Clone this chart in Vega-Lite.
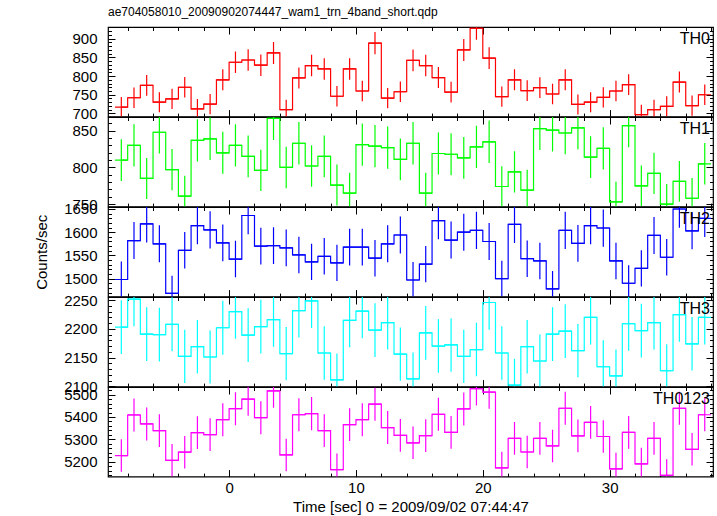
{
"$schema": "https://vega.github.io/schema/vega-lite/v6.json",
"padding": {"left": 34, "top": 5, "right": 4, "bottom": 5},
"title": {"text": "ae704058010_20090902074447_wam1_trn_4band_short.qdp", "anchor": "start", "frame": "group", "font": "Liberation Sans", "fontSize": 12, "fontWeight": "normal", "color": "black", "offset": 7},
"spacing": 0,
"bounds": "flush",
"config": {
  "view": {"stroke": "#000000", "strokeWidth": 1.2},
  "axis": {"domain": false, "grid": false, "labelOverlap": false, "labelFlush": false, "format": "d", "labelFont": "Liberation Sans", "labelFontSize": 15, "labelColor": "#000000", "tickColor": "#000000", "tickWidth": 1, "titleFont": "Liberation Sans", "titleFontSize": 15, "titleFontWeight": "normal", "titleColor": "#000000"},
  "text": {"font": "Liberation Sans"}
},
"datasets": {"d": [
{"b":"TH0","t":-8.5,"t0":-9,"t1":-8,"r":717,"e":26.8},
{"b":"TH0","t":-7.5,"t0":-8,"t1":-7,"r":742,"e":27.2},
{"b":"TH0","t":-6.5,"t0":-7,"t1":-6,"r":775,"e":27.8},
{"b":"TH0","t":-5.5,"t0":-6,"t1":-5,"r":730,"e":27.0},
{"b":"TH0","t":-4.5,"t0":-5,"t1":-4,"r":739,"e":27.2},
{"b":"TH0","t":-3.5,"t0":-4,"t1":-3,"r":770,"e":27.7},
{"b":"TH0","t":-2.5,"t0":-3,"t1":-2,"r":712,"e":26.7},
{"b":"TH0","t":-1.5,"t0":-2,"t1":-1,"r":725,"e":26.9},
{"b":"TH0","t":-0.5,"t0":-1,"t1":0,"r":790,"e":28.1},
{"b":"TH0","t":0.5,"t0":0,"t1":1,"r":837,"e":28.9},
{"b":"TH0","t":1.5,"t0":1,"t1":2,"r":843,"e":29.0},
{"b":"TH0","t":2.5,"t0":2,"t1":3,"r":829,"e":28.8},
{"b":"TH0","t":3.5,"t0":3,"t1":4,"r":862,"e":29.4},
{"b":"TH0","t":4.5,"t0":4,"t1":5,"r":710,"e":26.6},
{"b":"TH0","t":5.5,"t0":5,"t1":6,"r":795,"e":28.2},
{"b":"TH0","t":6.5,"t0":6,"t1":7,"r":828,"e":28.8},
{"b":"TH0","t":7.5,"t0":7,"t1":8,"r":819,"e":28.6},
{"b":"TH0","t":8.5,"t0":8,"t1":9,"r":746,"e":27.3},
{"b":"TH0","t":9.5,"t0":9,"t1":10,"r":819,"e":28.6},
{"b":"TH0","t":10.5,"t0":10,"t1":11,"r":760,"e":27.6},
{"b":"TH0","t":11.5,"t0":11,"t1":12,"r":888,"e":29.8},
{"b":"TH0","t":12.5,"t0":12,"t1":13,"r":741,"e":27.2},
{"b":"TH0","t":13.5,"t0":13,"t1":14,"r":758,"e":27.5},
{"b":"TH0","t":14.5,"t0":14,"t1":15,"r":842,"e":29.0},
{"b":"TH0","t":15.5,"t0":15,"t1":16,"r":828,"e":28.8},
{"b":"TH0","t":16.5,"t0":16,"t1":17,"r":796,"e":28.2},
{"b":"TH0","t":17.5,"t0":17,"t1":18,"r":757,"e":27.5},
{"b":"TH0","t":18.5,"t0":18,"t1":19,"r":870,"e":29.5},
{"b":"TH0","t":19.5,"t0":19,"t1":20,"r":928,"e":30.5},
{"b":"TH0","t":20.5,"t0":20,"t1":21,"r":848,"e":29.1},
{"b":"TH0","t":21.5,"t0":21,"t1":22,"r":745,"e":27.3},
{"b":"TH0","t":22.5,"t0":22,"t1":23,"r":790,"e":28.1},
{"b":"TH0","t":23.5,"t0":23,"t1":24,"r":761,"e":27.6},
{"b":"TH0","t":24.5,"t0":24,"t1":25,"r":769,"e":27.7},
{"b":"TH0","t":25.5,"t0":25,"t1":26,"r":752,"e":27.4},
{"b":"TH0","t":26.5,"t0":26,"t1":27,"r":790,"e":28.1},
{"b":"TH0","t":27.5,"t0":27,"t1":28,"r":724,"e":26.9},
{"b":"TH0","t":28.5,"t0":28,"t1":29,"r":730,"e":27.0},
{"b":"TH0","t":29.5,"t0":29,"t1":30,"r":743,"e":27.3},
{"b":"TH0","t":30.5,"t0":30,"t1":31,"r":760,"e":27.6},
{"b":"TH0","t":31.5,"t0":31,"t1":32,"r":777,"e":27.9},
{"b":"TH0","t":32.5,"t0":32,"t1":33,"r":697,"e":26.4},
{"b":"TH0","t":33.5,"t0":33,"t1":34,"r":710,"e":26.6},
{"b":"TH0","t":34.5,"t0":34,"t1":35,"r":719,"e":26.8},
{"b":"TH0","t":35.5,"t0":35,"t1":36,"r":784,"e":28.0},
{"b":"TH0","t":36.5,"t0":36,"t1":37,"r":721,"e":26.9},
{"b":"TH0","t":37.5,"t0":37,"t1":38,"r":750,"e":27.4},
{"b":"TH1","t":-8.5,"t0":-9,"t1":-8,"r":810,"e":28.5},
{"b":"TH1","t":-7.5,"t0":-8,"t1":-7,"r":830,"e":28.8},
{"b":"TH1","t":-6.5,"t0":-7,"t1":-6,"r":785,"e":28.0},
{"b":"TH1","t":-5.5,"t0":-6,"t1":-5,"r":848,"e":29.1},
{"b":"TH1","t":-4.5,"t0":-5,"t1":-4,"r":797,"e":28.2},
{"b":"TH1","t":-3.5,"t0":-4,"t1":-3,"r":761,"e":27.6},
{"b":"TH1","t":-2.5,"t0":-3,"t1":-2,"r":837,"e":28.9},
{"b":"TH1","t":-1.5,"t0":-2,"t1":-1,"r":839,"e":29.0},
{"b":"TH1","t":-0.5,"t0":-1,"t1":0,"r":820,"e":28.6},
{"b":"TH1","t":0.5,"t0":0,"t1":1,"r":830,"e":28.8},
{"b":"TH1","t":1.5,"t0":1,"t1":2,"r":815,"e":28.5},
{"b":"TH1","t":2.5,"t0":2,"t1":3,"r":796,"e":28.2},
{"b":"TH1","t":3.5,"t0":3,"t1":4,"r":867,"e":29.4},
{"b":"TH1","t":4.5,"t0":4,"t1":5,"r":800,"e":28.3},
{"b":"TH1","t":5.5,"t0":5,"t1":6,"r":833,"e":28.9},
{"b":"TH1","t":6.5,"t0":6,"t1":7,"r":802,"e":28.3},
{"b":"TH1","t":7.5,"t0":7,"t1":8,"r":815,"e":28.5},
{"b":"TH1","t":8.5,"t0":8,"t1":9,"r":776,"e":27.9},
{"b":"TH1","t":9.5,"t0":9,"t1":10,"r":765,"e":27.7},
{"b":"TH1","t":10.5,"t0":10,"t1":11,"r":831,"e":28.8},
{"b":"TH1","t":11.5,"t0":11,"t1":12,"r":829,"e":28.8},
{"b":"TH1","t":12.5,"t0":12,"t1":13,"r":827,"e":28.8},
{"b":"TH1","t":13.5,"t0":13,"t1":14,"r":811,"e":28.5},
{"b":"TH1","t":14.5,"t0":14,"t1":15,"r":833,"e":28.9},
{"b":"TH1","t":15.5,"t0":15,"t1":16,"r":765,"e":27.7},
{"b":"TH1","t":16.5,"t0":16,"t1":17,"r":819,"e":28.6},
{"b":"TH1","t":17.5,"t0":17,"t1":18,"r":818,"e":28.6},
{"b":"TH1","t":18.5,"t0":18,"t1":19,"r":813,"e":28.5},
{"b":"TH1","t":19.5,"t0":19,"t1":20,"r":828,"e":28.8},
{"b":"TH1","t":20.5,"t0":20,"t1":21,"r":835,"e":28.9},
{"b":"TH1","t":21.5,"t0":21,"t1":22,"r":774,"e":27.8},
{"b":"TH1","t":22.5,"t0":22,"t1":23,"r":794,"e":28.2},
{"b":"TH1","t":23.5,"t0":23,"t1":24,"r":769,"e":27.7},
{"b":"TH1","t":24.5,"t0":24,"t1":25,"r":853,"e":29.2},
{"b":"TH1","t":25.5,"t0":25,"t1":26,"r":851,"e":29.2},
{"b":"TH1","t":26.5,"t0":26,"t1":27,"r":847,"e":29.1},
{"b":"TH1","t":27.5,"t0":27,"t1":28,"r":854,"e":29.2},
{"b":"TH1","t":28.5,"t0":28,"t1":29,"r":814,"e":28.5},
{"b":"TH1","t":29.5,"t0":29,"t1":30,"r":826,"e":28.7},
{"b":"TH1","t":30.5,"t0":30,"t1":31,"r":753,"e":27.4},
{"b":"TH1","t":31.5,"t0":31,"t1":32,"r":857,"e":29.3},
{"b":"TH1","t":32.5,"t0":32,"t1":33,"r":775,"e":27.8},
{"b":"TH1","t":33.5,"t0":33,"t1":34,"r":792,"e":28.1},
{"b":"TH1","t":34.5,"t0":34,"t1":35,"r":750,"e":27.4},
{"b":"TH1","t":35.5,"t0":35,"t1":36,"r":781,"e":27.9},
{"b":"TH1","t":36.5,"t0":36,"t1":37,"r":758,"e":27.5},
{"b":"TH1","t":37.5,"t0":37,"t1":38,"r":805,"e":28.4},
{"b":"TH2","t":-8.5,"t0":-9,"t1":-8,"r":1498,"e":38.7},
{"b":"TH2","t":-7.5,"t0":-8,"t1":-7,"r":1582,"e":39.8},
{"b":"TH2","t":-6.5,"t0":-7,"t1":-6,"r":1618,"e":40.2},
{"b":"TH2","t":-5.5,"t0":-6,"t1":-5,"r":1575,"e":39.7},
{"b":"TH2","t":-4.5,"t0":-5,"t1":-4,"r":1468,"e":38.3},
{"b":"TH2","t":-3.5,"t0":-4,"t1":-3,"r":1561,"e":39.5},
{"b":"TH2","t":-2.5,"t0":-3,"t1":-2,"r":1614,"e":40.2},
{"b":"TH2","t":-1.5,"t0":-2,"t1":-1,"r":1605,"e":40.1},
{"b":"TH2","t":-0.5,"t0":-1,"t1":0,"r":1577,"e":39.7},
{"b":"TH2","t":0.5,"t0":0,"t1":1,"r":1542,"e":39.3},
{"b":"TH2","t":1.5,"t0":1,"t1":2,"r":1636,"e":40.4},
{"b":"TH2","t":2.5,"t0":2,"t1":3,"r":1570,"e":39.6},
{"b":"TH2","t":3.5,"t0":3,"t1":4,"r":1571,"e":39.6},
{"b":"TH2","t":4.5,"t0":4,"t1":5,"r":1566,"e":39.6},
{"b":"TH2","t":5.5,"t0":5,"t1":6,"r":1551,"e":39.4},
{"b":"TH2","t":6.5,"t0":6,"t1":7,"r":1536,"e":39.2},
{"b":"TH2","t":7.5,"t0":7,"t1":8,"r":1548,"e":39.3},
{"b":"TH2","t":8.5,"t0":8,"t1":9,"r":1534,"e":39.2},
{"b":"TH2","t":9.5,"t0":9,"t1":10,"r":1568,"e":39.6},
{"b":"TH2","t":10.5,"t0":10,"t1":11,"r":1568,"e":39.6},
{"b":"TH2","t":11.5,"t0":11,"t1":12,"r":1544,"e":39.3},
{"b":"TH2","t":12.5,"t0":12,"t1":13,"r":1575,"e":39.7},
{"b":"TH2","t":13.5,"t0":13,"t1":14,"r":1594,"e":39.9},
{"b":"TH2","t":14.5,"t0":14,"t1":15,"r":1497,"e":38.7},
{"b":"TH2","t":15.5,"t0":15,"t1":16,"r":1531,"e":39.1},
{"b":"TH2","t":16.5,"t0":16,"t1":17,"r":1625,"e":40.3},
{"b":"TH2","t":17.5,"t0":17,"t1":18,"r":1583,"e":39.8},
{"b":"TH2","t":18.5,"t0":18,"t1":19,"r":1600,"e":40.0},
{"b":"TH2","t":19.5,"t0":19,"t1":20,"r":1604,"e":40.0},
{"b":"TH2","t":20.5,"t0":20,"t1":21,"r":1580,"e":39.7},
{"b":"TH2","t":21.5,"t0":21,"t1":22,"r":1500,"e":38.7},
{"b":"TH2","t":22.5,"t0":22,"t1":23,"r":1617,"e":40.2},
{"b":"TH2","t":23.5,"t0":23,"t1":24,"r":1543,"e":39.3},
{"b":"TH2","t":24.5,"t0":24,"t1":25,"r":1538,"e":39.2},
{"b":"TH2","t":25.5,"t0":25,"t1":26,"r":1478,"e":38.4},
{"b":"TH2","t":26.5,"t0":26,"t1":27,"r":1604,"e":40.0},
{"b":"TH2","t":27.5,"t0":27,"t1":28,"r":1576,"e":39.7},
{"b":"TH2","t":28.5,"t0":28,"t1":29,"r":1614,"e":40.2},
{"b":"TH2","t":29.5,"t0":29,"t1":30,"r":1609,"e":40.1},
{"b":"TH2","t":30.5,"t0":30,"t1":31,"r":1538,"e":39.2},
{"b":"TH2","t":31.5,"t0":31,"t1":32,"r":1490,"e":38.6},
{"b":"TH2","t":32.5,"t0":32,"t1":33,"r":1522,"e":39.0},
{"b":"TH2","t":33.5,"t0":33,"t1":34,"r":1593,"e":39.9},
{"b":"TH2","t":34.5,"t0":34,"t1":35,"r":1546,"e":39.3},
{"b":"TH2","t":35.5,"t0":35,"t1":36,"r":1650,"e":40.6},
{"b":"TH2","t":36.5,"t0":36,"t1":37,"r":1603,"e":40.0},
{"b":"TH2","t":37.5,"t0":37,"t1":38,"r":1630,"e":40.4},
{"b":"TH3","t":-8.5,"t0":-9,"t1":-8,"r":2203,"e":46.9},
{"b":"TH3","t":-7.5,"t0":-8,"t1":-7,"r":2252,"e":47.5},
{"b":"TH3","t":-6.5,"t0":-7,"t1":-6,"r":2191,"e":46.8},
{"b":"TH3","t":-5.5,"t0":-6,"t1":-5,"r":2190,"e":46.8},
{"b":"TH3","t":-4.5,"t0":-5,"t1":-4,"r":2208,"e":47.0},
{"b":"TH3","t":-3.5,"t0":-4,"t1":-3,"r":2152,"e":46.4},
{"b":"TH3","t":-2.5,"t0":-3,"t1":-2,"r":2169,"e":46.6},
{"b":"TH3","t":-1.5,"t0":-2,"t1":-1,"r":2151,"e":46.4},
{"b":"TH3","t":-0.5,"t0":-1,"t1":0,"r":2202,"e":46.9},
{"b":"TH3","t":0.5,"t0":0,"t1":1,"r":2230,"e":47.2},
{"b":"TH3","t":1.5,"t0":1,"t1":2,"r":2189,"e":46.8},
{"b":"TH3","t":2.5,"t0":2,"t1":3,"r":2204,"e":46.9},
{"b":"TH3","t":3.5,"t0":3,"t1":4,"r":2216,"e":47.1},
{"b":"TH3","t":4.5,"t0":4,"t1":5,"r":2157,"e":46.4},
{"b":"TH3","t":5.5,"t0":5,"t1":6,"r":2232,"e":47.2},
{"b":"TH3","t":6.5,"t0":6,"t1":7,"r":2249,"e":47.4},
{"b":"TH3","t":7.5,"t0":7,"t1":8,"r":2158,"e":46.5},
{"b":"TH3","t":8.5,"t0":8,"t1":9,"r":2111,"e":45.9},
{"b":"TH3","t":9.5,"t0":9,"t1":10,"r":2215,"e":47.1},
{"b":"TH3","t":10.5,"t0":10,"t1":11,"r":2231,"e":47.2},
{"b":"TH3","t":11.5,"t0":11,"t1":12,"r":2198,"e":46.9},
{"b":"TH3","t":12.5,"t0":12,"t1":13,"r":2211,"e":47.0},
{"b":"TH3","t":13.5,"t0":13,"t1":14,"r":2156,"e":46.4},
{"b":"TH3","t":14.5,"t0":14,"t1":15,"r":2113,"e":46.0},
{"b":"TH3","t":15.5,"t0":15,"t1":16,"r":2193,"e":46.8},
{"b":"TH3","t":16.5,"t0":16,"t1":17,"r":2170,"e":46.6},
{"b":"TH3","t":17.5,"t0":17,"t1":18,"r":2172,"e":46.6},
{"b":"TH3","t":18.5,"t0":18,"t1":19,"r":2152,"e":46.4},
{"b":"TH3","t":19.5,"t0":19,"t1":20,"r":2164,"e":46.5},
{"b":"TH3","t":20.5,"t0":20,"t1":21,"r":2246,"e":47.4},
{"b":"TH3","t":21.5,"t0":21,"t1":22,"r":2158,"e":46.5},
{"b":"TH3","t":22.5,"t0":22,"t1":23,"r":2102,"e":45.8},
{"b":"TH3","t":23.5,"t0":23,"t1":24,"r":2169,"e":46.6},
{"b":"TH3","t":24.5,"t0":24,"t1":25,"r":2144,"e":46.3},
{"b":"TH3","t":25.5,"t0":25,"t1":26,"r":2191,"e":46.8},
{"b":"TH3","t":26.5,"t0":26,"t1":27,"r":2196,"e":46.9},
{"b":"TH3","t":27.5,"t0":27,"t1":28,"r":2162,"e":46.5},
{"b":"TH3","t":28.5,"t0":28,"t1":29,"r":2220,"e":47.1},
{"b":"TH3","t":29.5,"t0":29,"t1":30,"r":2134,"e":46.2},
{"b":"TH3","t":30.5,"t0":30,"t1":31,"r":2118,"e":46.0},
{"b":"TH3","t":31.5,"t0":31,"t1":32,"r":2209,"e":47.0},
{"b":"TH3","t":32.5,"t0":32,"t1":33,"r":2197,"e":46.9},
{"b":"TH3","t":33.5,"t0":33,"t1":34,"r":2211,"e":47.0},
{"b":"TH3","t":34.5,"t0":34,"t1":35,"r":2127,"e":46.1},
{"b":"TH3","t":35.5,"t0":35,"t1":36,"r":2225,"e":47.2},
{"b":"TH3","t":36.5,"t0":36,"t1":37,"r":2174,"e":46.6},
{"b":"TH3","t":37.5,"t0":37,"t1":38,"r":2220,"e":47.1},
{"b":"TH0123","t":-8.5,"t0":-9,"t1":-8,"r":5228,"e":72.3},
{"b":"TH0123","t":-7.5,"t0":-8,"t1":-7,"r":5409,"e":73.5},
{"b":"TH0123","t":-6.5,"t0":-7,"t1":-6,"r":5369,"e":73.3},
{"b":"TH0123","t":-5.5,"t0":-6,"t1":-5,"r":5339,"e":73.1},
{"b":"TH0123","t":-4.5,"t0":-5,"t1":-4,"r":5207,"e":72.2},
{"b":"TH0123","t":-3.5,"t0":-4,"t1":-3,"r":5243,"e":72.4},
{"b":"TH0123","t":-2.5,"t0":-3,"t1":-2,"r":5330,"e":73.0},
{"b":"TH0123","t":-1.5,"t0":-2,"t1":-1,"r":5321,"e":72.9},
{"b":"TH0123","t":-0.5,"t0":-1,"t1":0,"r":5388,"e":73.4},
{"b":"TH0123","t":0.5,"t0":0,"t1":1,"r":5437,"e":73.7},
{"b":"TH0123","t":1.5,"t0":1,"t1":2,"r":5480,"e":74.0},
{"b":"TH0123","t":2.5,"t0":2,"t1":3,"r":5397,"e":73.5},
{"b":"TH0123","t":3.5,"t0":3,"t1":4,"r":5516,"e":74.3},
{"b":"TH0123","t":4.5,"t0":4,"t1":5,"r":5231,"e":72.3},
{"b":"TH0123","t":5.5,"t0":5,"t1":6,"r":5410,"e":73.6},
{"b":"TH0123","t":6.5,"t0":6,"t1":7,"r":5415,"e":73.6},
{"b":"TH0123","t":7.5,"t0":7,"t1":8,"r":5339,"e":73.1},
{"b":"TH0123","t":8.5,"t0":8,"t1":9,"r":5165,"e":71.9},
{"b":"TH0123","t":9.5,"t0":9,"t1":10,"r":5366,"e":73.3},
{"b":"TH0123","t":10.5,"t0":10,"t1":11,"r":5388,"e":73.4},
{"b":"TH0123","t":11.5,"t0":11,"t1":12,"r":5457,"e":73.9},
{"b":"TH0123","t":12.5,"t0":12,"t1":13,"r":5353,"e":73.2},
{"b":"TH0123","t":13.5,"t0":13,"t1":14,"r":5318,"e":72.9},
{"b":"TH0123","t":14.5,"t0":14,"t1":15,"r":5285,"e":72.7},
{"b":"TH0123","t":15.5,"t0":15,"t1":16,"r":5317,"e":72.9},
{"b":"TH0123","t":16.5,"t0":16,"t1":17,"r":5412,"e":73.6},
{"b":"TH0123","t":17.5,"t0":17,"t1":18,"r":5331,"e":73.0},
{"b":"TH0123","t":18.5,"t0":18,"t1":19,"r":5436,"e":73.7},
{"b":"TH0123","t":19.5,"t0":19,"t1":20,"r":5526,"e":74.3},
{"b":"TH0123","t":20.5,"t0":20,"t1":21,"r":5511,"e":74.2},
{"b":"TH0123","t":21.5,"t0":21,"t1":22,"r":5173,"e":71.9},
{"b":"TH0123","t":22.5,"t0":22,"t1":23,"r":5305,"e":72.8},
{"b":"TH0123","t":23.5,"t0":23,"t1":24,"r":5244,"e":72.4},
{"b":"TH0123","t":24.5,"t0":24,"t1":25,"r":5305,"e":72.8},
{"b":"TH0123","t":25.5,"t0":25,"t1":26,"r":5271,"e":72.6},
{"b":"TH0123","t":26.5,"t0":26,"t1":27,"r":5439,"e":73.7},
{"b":"TH0123","t":27.5,"t0":27,"t1":28,"r":5316,"e":72.9},
{"b":"TH0123","t":28.5,"t0":28,"t1":29,"r":5376,"e":73.3},
{"b":"TH0123","t":29.5,"t0":29,"t1":30,"r":5313,"e":72.9},
{"b":"TH0123","t":30.5,"t0":30,"t1":31,"r":5169,"e":71.9},
{"b":"TH0123","t":31.5,"t0":31,"t1":32,"r":5331,"e":73.0},
{"b":"TH0123","t":32.5,"t0":32,"t1":33,"r":5191,"e":72.0},
{"b":"TH0123","t":33.5,"t0":33,"t1":34,"r":5305,"e":72.8},
{"b":"TH0123","t":34.5,"t0":34,"t1":35,"r":5140,"e":71.7},
{"b":"TH0123","t":35.5,"t0":35,"t1":36,"r":5439,"e":73.7},
{"b":"TH0123","t":36.5,"t0":36,"t1":37,"r":5256,"e":72.5},
{"b":"TH0123","t":37.5,"t0":37,"t1":38,"r":5410,"e":73.6}
]},
"vconcat": [
{
  "width": 605, "height": 89.6,
  "data": {"name": "d"},
  "resolve": {"axis": {"x": "independent", "y": "independent"}},
  "layer": [
    {"transform": [{"filter": "datum.b === 'TH0'"}],
     "mark": {"type": "line", "interpolate": "step", "color": "#ff0000", "strokeWidth": 1.2, "clip": true},
     "encoding": {
      "x": {"field": "t", "type": "quantitative", "scale": {"domain": [-9.55, 38.15], "nice": false, "zero": false}, "axis": {"orient": "bottom", "values": [0,10,20,30], "tickSize": -7, "labels": false, "title": null}},
      "y": {"field": "r", "type": "quantitative", "scale": {"domain": [691.5, 931.3], "nice": false, "zero": false}, "axis": {"orient": "left", "values": [700,750,800,850,900], "tickSize": -7, "labelPadding": 18, "title": null}}}},
    {"transform": [{"filter": "datum.b === 'TH0'"}],
     "mark": {"type": "rule", "color": "#ff0000", "strokeWidth": 1.2, "clip": true},
     "encoding": {
      "x": {"field": "t0", "type": "quantitative", "axis": {"orient": "top", "values": [0,10,20,30], "tickSize": -7, "labels": false, "title": null}},
      "x2": {"field": "t1"},
      "y": {"field": "r", "type": "quantitative", "axis": {"orient": "right", "values": [700,750,800,850,900], "tickSize": -7, "labels": false, "title": null}}}},
    {"transform": [{"filter": "datum.b === 'TH0'"}],
     "mark": {"type": "errorbar", "color": "#ff0000", "thickness": 1.2, "clip": true},
     "encoding": {
      "x": {"field": "t", "type": "quantitative", "axis": {"orient": "bottom", "values": [-8,-6,-4,-2,2,4,6,8,12,14,16,18,22,24,26,28,32,34,36,38], "tickSize": -3.5, "labels": false, "title": null}},
      "y": {"field": "r", "type": "quantitative", "axis": {"orient": "left", "values": [700,710,720,730,740,760,770,780,790,810,820,830,840,860,870,880,890,910,920,930], "tickSize": -3.5, "labels": false, "title": null}},
      "yError": {"field": "e"}}},
    {"data": {"values": [{"lab": "TH0"}]},
     "mark": {"type": "text", "align": "right", "baseline": "top", "dx": -3, "dy": 4, "fontSize": 16, "color": "#000000"},
     "encoding": {
      "x": {"datum": 38.15, "type": "quantitative", "axis": {"orient": "top", "values": [-8,-6,-4,-2,2,4,6,8,12,14,16,18,22,24,26,28,32,34,36,38], "tickSize": -3.5, "labels": false, "title": null}},
      "y": {"datum": 931.3, "type": "quantitative", "axis": {"orient": "right", "values": [700,710,720,730,740,760,770,780,790,810,820,830,840,860,870,880,890,910,920,930], "tickSize": -3.5, "labels": false, "title": null}},
      "text": {"field": "lab"}}}
  ]
},
{
  "width": 605, "height": 89.6,
  "data": {"name": "d"},
  "resolve": {"axis": {"x": "independent", "y": "independent"}},
  "layer": [
    {"transform": [{"filter": "datum.b === 'TH1'"}],
     "mark": {"type": "line", "interpolate": "step", "color": "#00ff00", "strokeWidth": 1.2, "clip": true},
     "encoding": {
      "x": {"field": "t", "type": "quantitative", "scale": {"domain": [-9.55, 38.15], "nice": false, "zero": false}, "axis": {"orient": "bottom", "values": [0,10,20,30], "tickSize": -7, "labels": false, "title": null}},
      "y": {"field": "r", "type": "quantitative", "scale": {"domain": [746.6, 868.8], "nice": false, "zero": false}, "axis": {"orient": "left", "values": [750,800,850], "tickSize": -7, "labelPadding": 18, "title": null}}}},
    {"transform": [{"filter": "datum.b === 'TH1'"}],
     "mark": {"type": "rule", "color": "#00ff00", "strokeWidth": 1.2, "clip": true},
     "encoding": {
      "x": {"field": "t0", "type": "quantitative", "axis": {"orient": "top", "values": [0,10,20,30], "tickSize": -7, "labels": false, "title": null}},
      "x2": {"field": "t1"},
      "y": {"field": "r", "type": "quantitative", "axis": {"orient": "right", "values": [750,800,850], "tickSize": -7, "labels": false, "title": null}}}},
    {"transform": [{"filter": "datum.b === 'TH1'"}],
     "mark": {"type": "errorbar", "color": "#00ff00", "thickness": 1.2, "clip": true},
     "encoding": {
      "x": {"field": "t", "type": "quantitative", "axis": {"orient": "bottom", "values": [-8,-6,-4,-2,2,4,6,8,12,14,16,18,22,24,26,28,32,34,36,38], "tickSize": -3.5, "labels": false, "title": null}},
      "y": {"field": "r", "type": "quantitative", "axis": {"orient": "left", "values": [760,770,780,790,810,820,830,840,860], "tickSize": -3.5, "labels": false, "title": null}},
      "yError": {"field": "e"}}},
    {"data": {"values": [{"lab": "TH1"}]},
     "mark": {"type": "text", "align": "right", "baseline": "top", "dx": -3, "dy": 4, "fontSize": 16, "color": "#000000"},
     "encoding": {
      "x": {"datum": 38.15, "type": "quantitative", "axis": {"orient": "top", "values": [-8,-6,-4,-2,2,4,6,8,12,14,16,18,22,24,26,28,32,34,36,38], "tickSize": -3.5, "labels": false, "title": null}},
      "y": {"datum": 868.8, "type": "quantitative", "axis": {"orient": "right", "values": [760,770,780,790,810,820,830,840,860], "tickSize": -3.5, "labels": false, "title": null}},
      "text": {"field": "lab"}}}
  ]
},
{
  "width": 605, "height": 89.6,
  "data": {"name": "d"},
  "resolve": {"axis": {"x": "independent", "y": "independent"}},
  "layer": [
    {"transform": [{"filter": "datum.b === 'TH2'"}],
     "mark": {"type": "line", "interpolate": "step", "color": "#0000ff", "strokeWidth": 1.2, "clip": true},
     "encoding": {
      "x": {"field": "t", "type": "quantitative", "scale": {"domain": [-9.55, 38.15], "nice": false, "zero": false}, "axis": {"orient": "bottom", "values": [0,10,20,30], "tickSize": -7, "labels": false, "title": null}},
      "y": {"field": "r", "type": "quantitative", "scale": {"domain": [1461.2, 1654.3], "nice": false, "zero": false}, "axis": {"orient": "left", "values": [1500,1550,1600,1650], "tickSize": -7, "labelPadding": 18, "title": "Counts/sec", "titlePadding": 14}}}},
    {"transform": [{"filter": "datum.b === 'TH2'"}],
     "mark": {"type": "rule", "color": "#0000ff", "strokeWidth": 1.2, "clip": true},
     "encoding": {
      "x": {"field": "t0", "type": "quantitative", "axis": {"orient": "top", "values": [0,10,20,30], "tickSize": -7, "labels": false, "title": null}},
      "x2": {"field": "t1"},
      "y": {"field": "r", "type": "quantitative", "axis": {"orient": "right", "values": [1500,1550,1600,1650], "tickSize": -7, "labels": false, "title": null}}}},
    {"transform": [{"filter": "datum.b === 'TH2'"}],
     "mark": {"type": "errorbar", "color": "#0000ff", "thickness": 1.2, "clip": true},
     "encoding": {
      "x": {"field": "t", "type": "quantitative", "axis": {"orient": "bottom", "values": [-8,-6,-4,-2,2,4,6,8,12,14,16,18,22,24,26,28,32,34,36,38], "tickSize": -3.5, "labels": false, "title": null}},
      "y": {"field": "r", "type": "quantitative", "axis": {"orient": "left", "values": [1470,1480,1490,1510,1520,1530,1540,1560,1570,1580,1590,1610,1620,1630,1640], "tickSize": -3.5, "labels": false, "title": null}},
      "yError": {"field": "e"}}},
    {"data": {"values": [{"lab": "TH2"}]},
     "mark": {"type": "text", "align": "right", "baseline": "top", "dx": -3, "dy": 4, "fontSize": 16, "color": "#000000"},
     "encoding": {
      "x": {"datum": 38.15, "type": "quantitative", "axis": {"orient": "top", "values": [-8,-6,-4,-2,2,4,6,8,12,14,16,18,22,24,26,28,32,34,36,38], "tickSize": -3.5, "labels": false, "title": null}},
      "y": {"datum": 1654.3, "type": "quantitative", "axis": {"orient": "right", "values": [1470,1480,1490,1510,1520,1530,1540,1560,1570,1580,1590,1610,1620,1630,1640], "tickSize": -3.5, "labels": false, "title": null}},
      "text": {"field": "lab"}}}
  ]
},
{
  "width": 605, "height": 89.6,
  "data": {"name": "d"},
  "resolve": {"axis": {"x": "independent", "y": "independent"}},
  "layer": [
    {"transform": [{"filter": "datum.b === 'TH3'"}],
     "mark": {"type": "line", "interpolate": "step", "color": "#00ffff", "strokeWidth": 1.2, "clip": true},
     "encoding": {
      "x": {"field": "t", "type": "quantitative", "scale": {"domain": [-9.55, 38.15], "nice": false, "zero": false}, "axis": {"orient": "bottom", "values": [0,10,20,30], "tickSize": -7, "labels": false, "title": null}},
      "y": {"field": "r", "type": "quantitative", "scale": {"domain": [2099.4, 2255.6], "nice": false, "zero": false}, "axis": {"orient": "left", "values": [2100,2150,2200,2250], "tickSize": -7, "labelPadding": 18, "title": null}}}},
    {"transform": [{"filter": "datum.b === 'TH3'"}],
     "mark": {"type": "rule", "color": "#00ffff", "strokeWidth": 1.2, "clip": true},
     "encoding": {
      "x": {"field": "t0", "type": "quantitative", "axis": {"orient": "top", "values": [0,10,20,30], "tickSize": -7, "labels": false, "title": null}},
      "x2": {"field": "t1"},
      "y": {"field": "r", "type": "quantitative", "axis": {"orient": "right", "values": [2100,2150,2200,2250], "tickSize": -7, "labels": false, "title": null}}}},
    {"transform": [{"filter": "datum.b === 'TH3'"}],
     "mark": {"type": "errorbar", "color": "#00ffff", "thickness": 1.2, "clip": true},
     "encoding": {
      "x": {"field": "t", "type": "quantitative", "axis": {"orient": "bottom", "values": [-8,-6,-4,-2,2,4,6,8,12,14,16,18,22,24,26,28,32,34,36,38], "tickSize": -3.5, "labels": false, "title": null}},
      "y": {"field": "r", "type": "quantitative", "axis": {"orient": "left", "values": [2110,2120,2130,2140,2160,2170,2180,2190,2210,2220,2230,2240], "tickSize": -3.5, "labels": false, "title": null}},
      "yError": {"field": "e"}}},
    {"data": {"values": [{"lab": "TH3"}]},
     "mark": {"type": "text", "align": "right", "baseline": "top", "dx": -3, "dy": 4, "fontSize": 16, "color": "#000000"},
     "encoding": {
      "x": {"datum": 38.15, "type": "quantitative", "axis": {"orient": "top", "values": [-8,-6,-4,-2,2,4,6,8,12,14,16,18,22,24,26,28,32,34,36,38], "tickSize": -3.5, "labels": false, "title": null}},
      "y": {"datum": 2255.6, "type": "quantitative", "axis": {"orient": "right", "values": [2110,2120,2130,2140,2160,2170,2180,2190,2210,2220,2230,2240], "tickSize": -3.5, "labels": false, "title": null}},
      "text": {"field": "lab"}}}
  ]
},
{
  "width": 605, "height": 89.6,
  "data": {"name": "d"},
  "resolve": {"axis": {"x": "independent", "y": "independent"}},
  "layer": [
    {"transform": [{"filter": "datum.b === 'TH0123'"}],
     "mark": {"type": "line", "interpolate": "step", "color": "#ff00ff", "strokeWidth": 1.2, "clip": true},
     "encoding": {
      "x": {"field": "t", "type": "quantitative", "scale": {"domain": [-9.55, 38.15], "nice": false, "zero": false}, "axis": {"orient": "bottom", "values": [0,10,20,30], "tickSize": -7, "labelPadding": 11, "title": "Time [sec] 0 = 2009/09/02 07:44:47", "titlePadding": 4}},
      "y": {"field": "r", "type": "quantitative", "scale": {"domain": [5134.3, 5533.7], "nice": false, "zero": false}, "axis": {"orient": "left", "values": [5200,5300,5400,5500], "tickSize": -7, "labelPadding": 18, "title": null}}}},
    {"transform": [{"filter": "datum.b === 'TH0123'"}],
     "mark": {"type": "rule", "color": "#ff00ff", "strokeWidth": 1.2, "clip": true},
     "encoding": {
      "x": {"field": "t0", "type": "quantitative", "axis": {"orient": "top", "values": [0,10,20,30], "tickSize": -7, "labels": false, "title": null}},
      "x2": {"field": "t1"},
      "y": {"field": "r", "type": "quantitative", "axis": {"orient": "right", "values": [5200,5300,5400,5500], "tickSize": -7, "labels": false, "title": null}}}},
    {"transform": [{"filter": "datum.b === 'TH0123'"}],
     "mark": {"type": "errorbar", "color": "#ff00ff", "thickness": 1.2, "clip": true},
     "encoding": {
      "x": {"field": "t", "type": "quantitative", "axis": {"orient": "bottom", "values": [-8,-6,-4,-2,2,4,6,8,12,14,16,18,22,24,26,28,32,34,36,38], "tickSize": -3.5, "labels": false, "title": null}},
      "y": {"field": "r", "type": "quantitative", "axis": {"orient": "left", "values": [5140,5160,5180,5220,5240,5260,5280,5320,5340,5360,5380,5420,5440,5460,5480,5520], "tickSize": -3.5, "labels": false, "title": null}},
      "yError": {"field": "e"}}},
    {"data": {"values": [{"lab": "TH0123"}]},
     "mark": {"type": "text", "align": "right", "baseline": "top", "dx": -3, "dy": 4, "fontSize": 16, "color": "#000000"},
     "encoding": {
      "x": {"datum": 38.15, "type": "quantitative", "axis": {"orient": "top", "values": [-8,-6,-4,-2,2,4,6,8,12,14,16,18,22,24,26,28,32,34,36,38], "tickSize": -3.5, "labels": false, "title": null}},
      "y": {"datum": 5533.7, "type": "quantitative", "axis": {"orient": "right", "values": [5140,5160,5180,5220,5240,5260,5280,5320,5340,5360,5380,5420,5440,5460,5480,5520], "tickSize": -3.5, "labels": false, "title": null}},
      "text": {"field": "lab"}}}
  ]
}
]
}
